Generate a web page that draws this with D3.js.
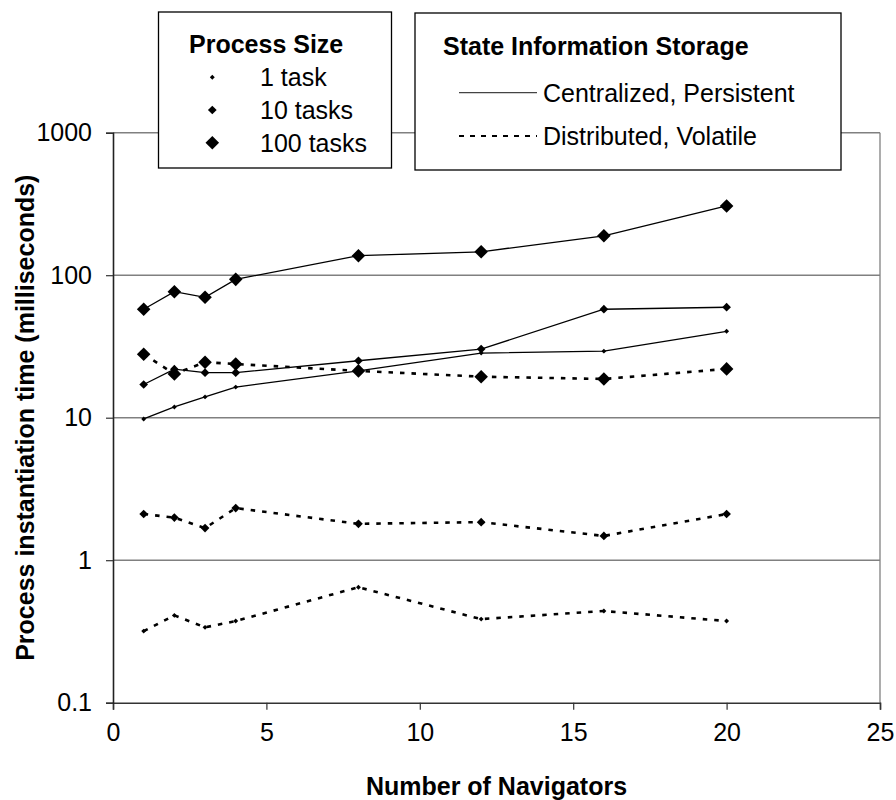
<!DOCTYPE html>
<html>
<head>
<meta charset="utf-8">
<script src="https://cdn.jsdelivr.net/npm/d3@7"></script>
<style>
  html, body { margin: 0; padding: 0; background: #fff; }
  svg text { font-family: "Liberation Sans", Arial, sans-serif; fill: #000; }
</style>
</head>
<body>
<div id="chart"></div>
<script>
// Number of navigators (x values shared by every series)
const navigators = [1, 2, 3, 4, 8, 12, 16, 20];

// Centralized, persistent state storage (ms)
const centralized1 = [9.8, 11.9, 14.0, 16.4, 21.3, 28.4, 29.3, 40.4];
const centralized10 = [17.1, 21.9, 20.7, 20.7, 25.1, 30.3, 57.7, 59.6];
const centralized100 = [57.7, 76.6, 70.0, 93.5, 137, 146, 189, 306];

// Distributed, volatile state storage (ms)
const distributed1 = [0.318, 0.41, 0.338, 0.374, 0.646, 0.386, 0.44, 0.374];
const distributed10 = [2.11, 1.99, 1.68, 2.32, 1.80, 1.85, 1.48, 2.11];
const distributed100 = [27.9, 20.3, 24.5, 23.8, 21.3, 19.4, 18.7, 22.0];

const xTicks = [0, 5, 10, 15, 20, 25];
const yTicks = [0.1, 1, 10, 100, 1000];
const yTickLabels = ["0.1", "1", "10", "100", "1000"];

const processSizes = ["1 task", "10 tasks", "100 tasks"];
const storageTypes = ["Centralized, Persistent", "Distributed, Volatile"];

const W = 896, H = 800;
const margin = { left: 113, right: 16, top: 132.7, bottom: 97.3 };
const fontSize = 25;

const svg = d3.select("#chart").append("svg")
  .attr("width", W)
  .attr("height", H);

svg.append("rect").attr("width", W).attr("height", H).attr("fill", "#fff");

const x = d3.scaleLinear().domain([0, 25]).range([margin.left, W - margin.right]);
const y = d3.scaleLog().domain([0.1, 1000]).range([H - margin.bottom, margin.top]);

// horizontal grid lines at each decade
svg.append("g")
  .selectAll("line")
  .data(yTicks.slice(1))
  .join("line")
  .attr("x1", x(0))
  .attr("x2", x(25))
  .attr("y1", d => y(d))
  .attr("y2", d => y(d))
  .attr("stroke", "#808080")
  .attr("stroke-width", 1.6);

// right border of plot area
svg.append("line")
  .attr("x1", x(25)).attr("x2", x(25))
  .attr("y1", y(1000)).attr("y2", y(0.1))
  .attr("stroke", "#808080")
  .attr("stroke-width", 1.3);

// x axis
const xAxis = svg.append("g")
  .attr("transform", `translate(0,${y(0.1)})`)
  .call(d3.axisBottom(x).tickValues(xTicks).tickSize(7).tickPadding(14).tickFormat(d3.format("d")));
xAxis.select(".domain").attr("stroke", "#333").attr("stroke-width", 1.6);
xAxis.selectAll(".tick line").attr("stroke", "#333").attr("stroke-width", 1.2);
xAxis.selectAll(".tick text")
  .attr("font-size", fontSize)
  .attr("font-family", "Liberation Sans, Arial, sans-serif")
  .attr("fill", "#000");

// y axis
const yAxis = svg.append("g")
  .attr("transform", `translate(${x(0)},0)`)
  .call(d3.axisLeft(y).tickValues(yTicks).tickSize(7).tickPadding(14)
    .tickFormat((d, i) => yTickLabels[i]));
yAxis.select(".domain").attr("stroke", "#222").attr("stroke-width", 1.6);
yAxis.selectAll(".tick line").attr("stroke", "#333").attr("stroke-width", 1.2);
yAxis.selectAll(".tick text")
  .attr("font-size", fontSize)
  .attr("font-family", "Liberation Sans, Arial, sans-serif")
  .attr("fill", "#000");

// axis titles
svg.append("text")
  .attr("x", (x(0) + x(25)) / 2)
  .attr("y", 795)
  .attr("text-anchor", "middle")
  .attr("font-size", fontSize)
  .attr("font-weight", "bold")
  .text("Number of Navigators");

svg.append("text")
  .attr("transform", `translate(34,${(y(0.1) + y(1000)) / 2}) rotate(-90)`)
  .attr("text-anchor", "middle")
  .attr("font-size", fontSize)
  .attr("font-weight", "bold")
  .text("Process instantiation time (milliseconds)");

// series definitions
const markerSize = [12, 38, 92]; // symbol areas for 1, 10, 100 tasks
const series = [
  { values: centralized100, size: 2, dashed: false },
  { values: centralized10, size: 1, dashed: false },
  { values: centralized1, size: 0, dashed: false },
  { values: distributed100, size: 2, dashed: true },
  { values: distributed10, size: 1, dashed: true },
  { values: distributed1, size: 0, dashed: true }
];

const line = d3.line()
  .x(d => x(d.n))
  .y(d => y(d.v));

const diamond = s => d3.symbol(d3.symbolSquare, s)();

series.forEach(s => {
  const pts = navigators.map((n, i) => ({ n, v: s.values[i] }));
  const g = svg.append("g");

  g.append("path")
    .datum(pts)
    .attr("fill", "none")
    .attr("stroke", "#000")
    .attr("stroke-width", s.dashed ? 2.6 : 1.3)
    .attr("stroke-dasharray", s.dashed ? "4.5,7" : null)
    .attr("d", line);

  g.selectAll("path.pt")
    .data(pts)
    .join("path")
    .attr("class", "pt")
    .attr("d", diamond(markerSize[s.size]))
    .attr("transform", d => `translate(${x(d.n)},${y(d.v)}) rotate(45)`)
    .attr("fill", "#000");
});

// legend: Process Size
const leg1 = svg.append("g");
leg1.append("rect")
  .attr("x", 158.5).attr("y", 12)
  .attr("width", 233).attr("height", 156)
  .attr("fill", "#fff")
  .attr("stroke", "#000")
  .attr("stroke-width", 1.3);
leg1.append("text")
  .attr("x", 189).attr("y", 53)
  .attr("font-size", fontSize)
  .attr("font-weight", "bold")
  .text("Process Size");
processSizes.forEach((label, i) => {
  const cy = 77.3 + i * 32.7;
  leg1.append("path")
    .attr("d", diamond(markerSize[i]))
    .attr("transform", `translate(212.3,${cy}) rotate(45)`)
    .attr("fill", "#000");
  leg1.append("text")
    .attr("x", 260).attr("y", cy + 9)
    .attr("font-size", fontSize)
    .text(label);
});

// legend: State Information Storage
const leg2 = svg.append("g");
leg2.append("rect")
  .attr("x", 415).attr("y", 13)
  .attr("width", 426).attr("height", 157)
  .attr("fill", "#fff")
  .attr("stroke", "#000")
  .attr("stroke-width", 1.3);
leg2.append("text")
  .attr("x", 443).attr("y", 55)
  .attr("font-size", fontSize)
  .attr("font-weight", "bold")
  .text("State Information Storage");
storageTypes.forEach((label, i) => {
  const cy = 92.7 + i * 43.3;
  leg2.append("line")
    .attr("x1", 459).attr("x2", 537)
    .attr("y1", cy).attr("y2", cy)
    .attr("stroke", i === 0 ? "#444" : "#000")
    .attr("stroke-width", i === 0 ? 1.3 : 2)
    .attr("stroke-dasharray", i === 0 ? null : "5,6");
  leg2.append("text")
    .attr("x", 543).attr("y", cy + 9)
    .attr("font-size", fontSize)
    .text(label);
});
</script>
</body>
</html>
